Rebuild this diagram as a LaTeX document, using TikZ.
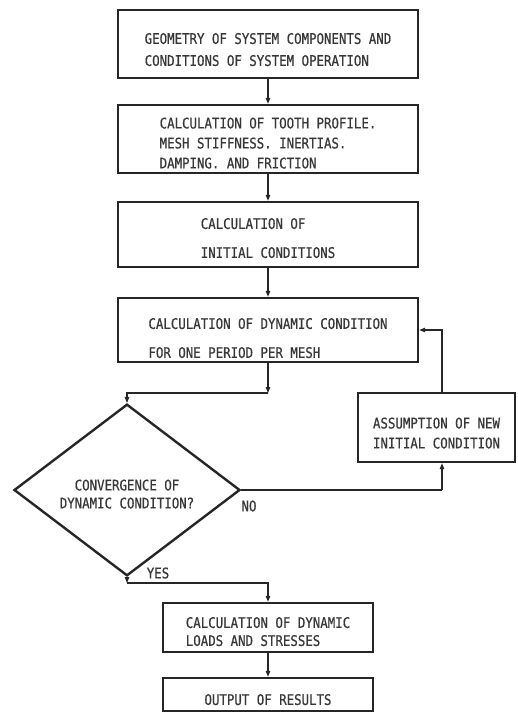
\documentclass[tikz,border=0pt]{standalone}
\usepackage{fontspec}
\usetikzlibrary{arrows.meta,shapes.geometric}
\newfontfamily\lett[FakeStretch=0.85,FakeBold=0.6]{DejaVu Sans Mono}
\definecolor{ink}{HTML}{262626}
\definecolor{txt}{HTML}{383838}
\newcommand\dnsh[1]{\rule{0pt}{\dimexpr 11pt+#1\relax}}
\tikzset{
  boxnode/.style={draw=ink, line width=2.4pt, rectangle, inner sep=0pt, align=left,
    text=txt, font=\lett\fontsize{14.6}{20}\selectfont},
  decnode/.style={draw=ink, line width=2.4pt, diamond, inner sep=0pt, align=center,
    text=txt, font=\lett\fontsize{14.6}{20}\selectfont},
  arr/.style={draw=ink, line width=1.1pt, -{Triangle[length=6pt,width=4.5pt]}},
  plain/.style={draw=ink, line width=1.1pt},
  lbl/.style={text=txt, font=\lett\fontsize{14.6}{20}\selectfont, inner sep=0pt}
}
\begin{document}
\begin{tikzpicture}[x=1pt,y=-1pt]
\useasboundingbox (0,0) rectangle (517,714);
\node[boxnode, minimum width=300pt, minimum height=68pt] (b1) at (268,44)
  {\dnsh{11pt}GEOMETRY OF SYSTEM COMPONENTS AND\\[2pt]CONDITIONS OF SYSTEM OPERATION};
\node[boxnode, minimum width=300pt, minimum height=68pt] (b2) at (268,139)
  {\dnsh{8pt}CALCULATION OF TOOTH PROFILE.\\MESH STIFFNESS. INERTIAS.\\DAMPING. AND FRICTION};
\node[boxnode, minimum width=300pt, minimum height=65pt] (b3) at (268,234.5)
  {\dnsh{7pt}CALCULATION OF\\[9pt]INITIAL CONDITIONS};
\node[boxnode, minimum width=300pt, minimum height=64pt] (b4) at (268,330)
  {\dnsh{16pt}CALCULATION OF DYNAMIC CONDITION\\[9pt]FOR ONE PERIOD PER MESH};
\node[boxnode, minimum width=157pt, minimum height=69pt] (a) at (436.5,427.5)
  {\dnsh{11pt}ASSUMPTION OF NEW\\INITIAL CONDITION};
\node[decnode, minimum width=226pt, minimum height=133pt] (d) at (127,490)
  {\dnsh{8pt}CONVERGENCE OF\\[-2pt]DYNAMIC CONDITION?};
\node[boxnode, minimum width=210pt, minimum height=49pt] (b5) at (268,627.5)
  {\dnsh{8pt}CALCULATION OF DYNAMIC\\[-2pt]LOADS AND STRESSES};
\node[boxnode, minimum width=210pt, minimum height=33pt] (b6) at (268,694.5)
  {\dnsh{10pt}OUTPUT OF RESULTS};
\node[lbl] (no) at (249,506) {NO};
\node[lbl] (yes) at (158,573) {YES};
\coordinate (c1) at (268,393);
\coordinate (c2) at (127,583);
\coordinate (n1) at (442,490);
\draw[arr] (b1.south) -- (b2.north);
\draw[arr] (b2.south) -- (b3.north);
\draw[arr] (b3.south) -- (b4.north);
\draw[arr] (b4.south) -- (c1);
\draw[arr] (c1) -| (d.north);
\draw[plain] (d.east) -- (n1);
\draw[arr] (n1) -- (n1 |- a.south);
\draw[arr] (n1 |- a.north) |- (b4.east);
\draw[arr] (d.south) -- (c2);
\draw[arr] (c2) -| (b5.north);
\draw[arr] (b5.south) -- (b6.north);
\end{tikzpicture}
\end{document}
